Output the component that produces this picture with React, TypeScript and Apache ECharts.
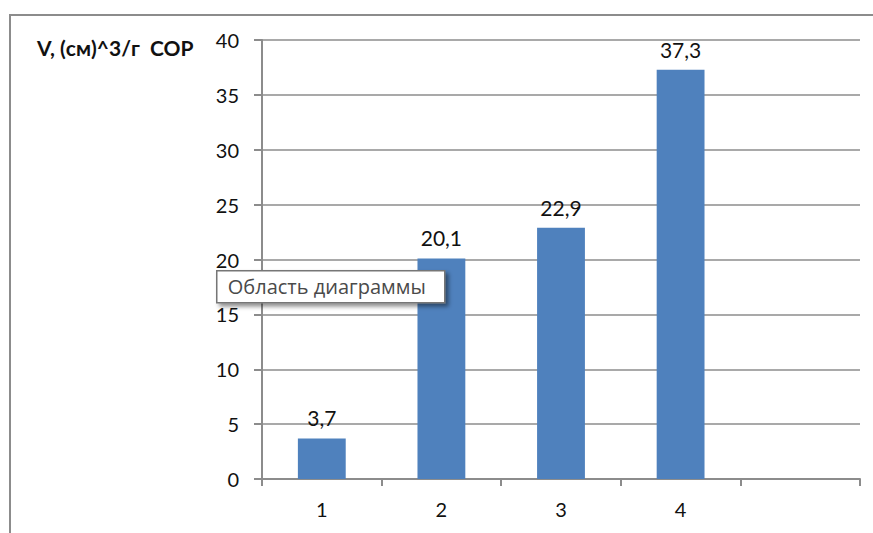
import React, { useEffect, useRef } from "react";
import * as echarts from "echarts";

// Category labels along the x axis (the last slot is an empty category)
const categories: string[] = ["1", "2", "3", "4", ""];
// Specific pore volume for each sample
const volumes: number[] = [3.7, 20.1, 22.9, 37.3];
// Y axis range
const yMin = 0;
const yMax = 40;
const yStep = 5;

const axisTitle = "V, (см)^3/г  СОР";
const hintText = "Область диаграммы";

const FONT = "Lato, 'Liberation Sans', sans-serif";

export default function App() {
  const ref = useRef<HTMLDivElement>(null);

  useEffect(() => {
    document.body.style.margin = "0";
    if (!ref.current) return;
    const chart = echarts.init(ref.current, null, { renderer: "svg" });
    chart.setOption({
      animation: false,
      backgroundColor: "#ffffff",
      textStyle: { fontFamily: FONT },
      grid: { left: 262, right: 13, top: 40, bottom: 54, containLabel: false },
      xAxis: {
        type: "category",
        data: categories,
        axisLine: { show: true, lineStyle: { color: "#8c8c8c", width: 2 } },
        axisTick: { show: true, length: 7, lineStyle: { color: "#8c8c8c", width: 2 } },
        axisLabel: { color: "#111111", fontSize: 20, margin: 20, fontFamily: FONT },
        splitLine: { show: false },
      },
      yAxis: {
        type: "value",
        min: yMin,
        max: yMax,
        interval: yStep,
        axisLine: { show: true, lineStyle: { color: "#8c8c8c", width: 2 } },
        axisTick: { show: true, length: 8, lineStyle: { color: "#8c8c8c", width: 2 } },
        axisLabel: {
          color: "#111111",
          fontSize: 20,
          margin: 23,
          fontFamily: FONT,
          padding: [6, 0, 0, 0],
        },
        splitLine: { show: true, lineStyle: { color: "#8c8c8c", width: 1.5 } },
      },
      series: [
        {
          type: "bar",
          data: volumes,
          barWidth: "40%",
          itemStyle: { color: "#4f81bd" },
          label: {
            show: true,
            position: "top",
            distance: 10,
            color: "#111111",
            fontSize: 21,
            fontFamily: FONT,
            formatter: (p: any) => String(p.value).replace(".", ","),
          },
        },
      ],
      graphic: [
        {
          type: "polyline",
          shape: { points: [[10, 533], [10, 15], [873, 15]] },
          style: { stroke: "#8c8c8c", lineWidth: 2, fill: null },
          silent: true,
        },
        {
          type: "text",
          left: 37,
          top: 37,
          style: {
            text: axisTitle,
            font: `bold 21px ${FONT}`,
            fill: "#111111",
          },
        },
        {
          type: "group",
          left: 216,
          top: 270,
          z: 100,
          children: [
            {
              type: "rect",
              z: 100,
              shape: { x: 0, y: 0, width: 228, height: 32 },
              style: {
                fill: "#ffffff",
                stroke: "#767676",
                lineWidth: 1.5,
                shadowBlur: 4,
                shadowOffsetX: 3,
                shadowOffsetY: 3,
                shadowColor: "rgba(0,0,0,0.45)",
              },
            },
            {
              type: "text",
              z: 101,
              x: 11,
              y: 16,
              style: {
                text: hintText,
                font: "20px 'Open Sans', 'Noto Sans', sans-serif",
                fill: "#4a4a4a",
                verticalAlign: "middle",
              },
            },
          ],
        },
      ],
    });
    return () => chart.dispose();
  }, []);

  return (
    <div
      ref={ref}
      style={{ position: "absolute", left: 0, top: 0, width: 873, height: 533 }}
    />
  );
}
